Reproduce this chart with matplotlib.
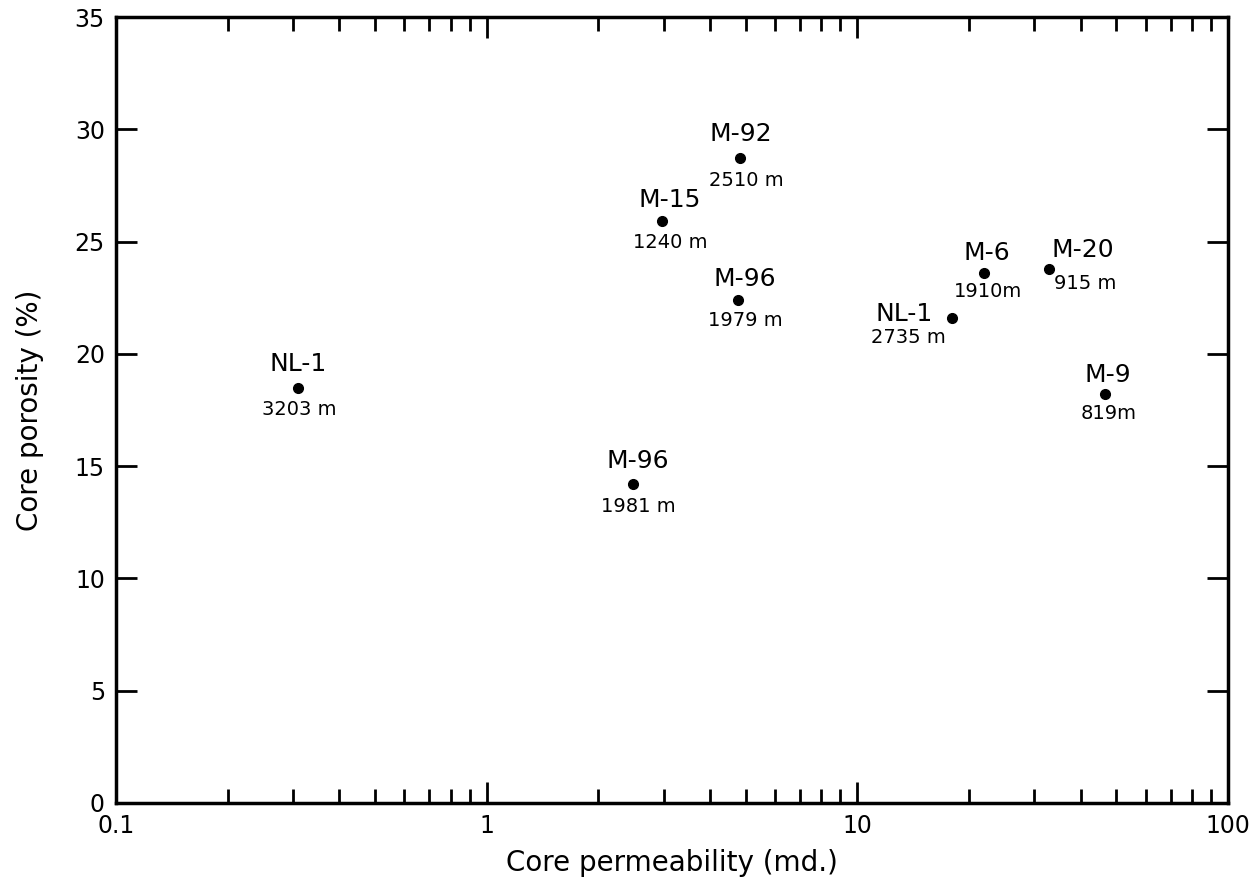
import numpy as np
import matplotlib
matplotlib.use("Agg")
import matplotlib.pyplot as plt
from matplotlib.ticker import LogLocator, FixedLocator, NullFormatter

# core samples: well name, depth, permeability (md.), porosity (%)
wells = ["NL-1", "M-96", "M-15", "M-92", "M-96", "NL-1", "M-6", "M-20", "M-9"]
depths = ["3203 m", "1981 m", "1240 m", "2510 m", "1979 m", "2735 m", "1910m", "915 m", "819m"]
permeability = [0.31, 2.48, 2.97, 4.82, 4.76, 18.0, 21.9, 32.9, 46.6]
porosity = [18.5, 14.2, 25.9, 28.7, 22.4, 21.6, 23.6, 23.8, 18.2]

# label offsets in pixels (name, depth) relative to the point
name_off = [(0, 24), (5, 23), (8, 21), (1, 24), (7, 21), (-48, 4), (3, 20), (34, 19), (3, 19)]
depth_off = [(1, -22), (5, -22), (8, -21), (6, -22), (7, -21), (-44, -20), (4, -18), (36, -15), (3, -19)]

xticks = [0.1, 1, 10, 100]
xticklabels = ["0.1", "1", "10", "100"]
yticks = np.arange(0, 36, 5)

plt.rcParams["font.family"] = ["DejaVu Sans"]

fig = plt.figure(figsize=(12.58, 8.86), dpi=100)
ax = fig.add_axes([0.0922, 0.0937, 0.8840, 0.8871])

ax.plot(permeability, porosity, "o", color="black", markersize=7, linestyle="none")

for i in range(len(wells)):
    ax.annotate(wells[i], (permeability[i], porosity[i]), xytext=name_off[i],
                textcoords="offset pixels", ha="center", va="center", fontsize=18)
    ax.annotate(depths[i], (permeability[i], porosity[i]), xytext=depth_off[i],
                textcoords="offset pixels", ha="center", va="center", fontsize=14)

ax.set_xscale("log")
ax.set_xlim(0.1, 100)
ax.set_ylim(0, 35)
ax.xaxis.set_major_locator(FixedLocator(xticks))
ax.set_xticklabels(xticklabels)
ax.xaxis.set_minor_locator(LogLocator(base=10, subs=np.arange(2, 10)))
ax.xaxis.set_minor_formatter(NullFormatter())
ax.set_yticks(yticks)

ax.tick_params(which="both", direction="in", top=True, right=True, labelsize=17, width=2, pad=8)
ax.tick_params(which="major", length=15)
ax.tick_params(which="minor", length=10)
for s in ax.spines.values():
    s.set_linewidth(2.5)

ax.set_xlabel("Core permeability (md.)", fontsize=20, labelpad=8)
ax.set_ylabel("Core porosity (%)", fontsize=20, labelpad=22)

fig.savefig("out.png", dpi=100)
